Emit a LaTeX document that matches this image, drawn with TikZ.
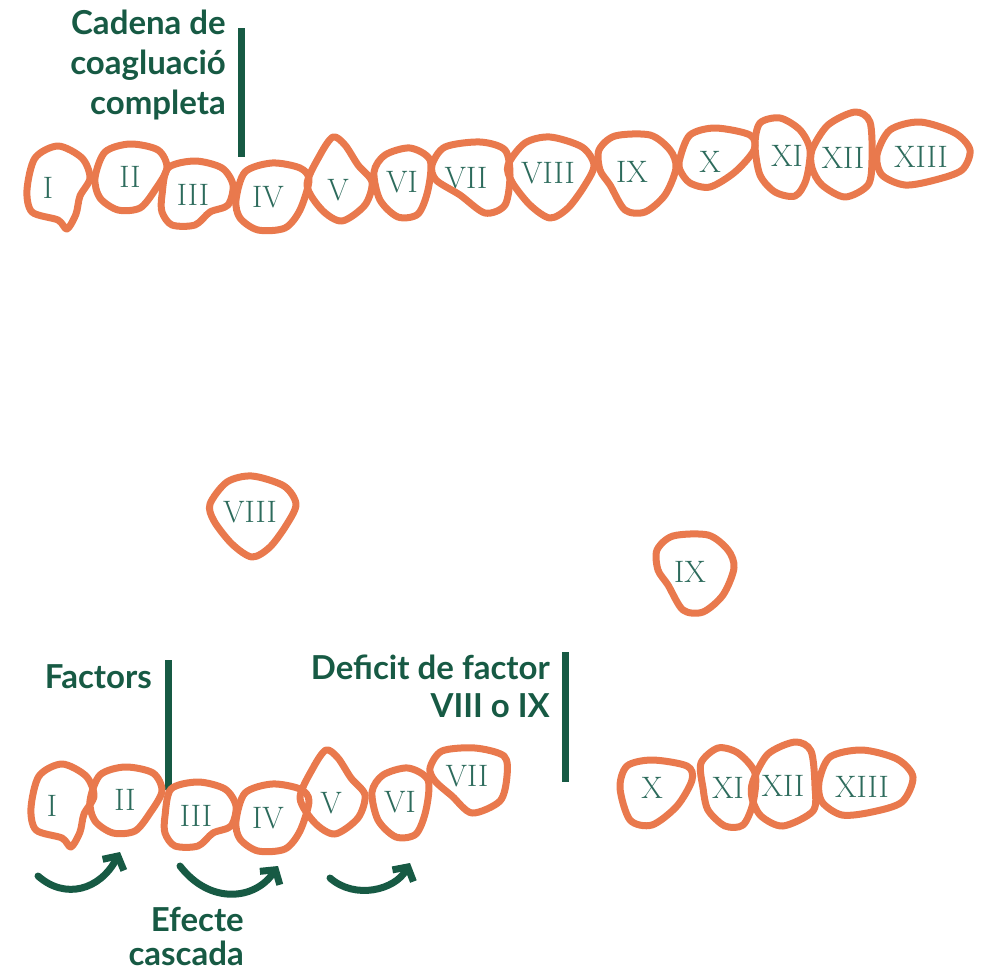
\documentclass[tikz,border=0pt]{standalone}
\usepackage{fontspec}
\newfontfamily\headfont{Lato}
\usetikzlibrary{arrows.meta}
\definecolor{blobcol}{HTML}{E9794D}
\definecolor{headcol}{HTML}{175A44}
\definecolor{numcol}{HTML}{2D6B5C}
% one factor: name, centre, label, outline around the centre
\newcommand\factor[4]{%
  \node[num] (#1) at (#2) {#3};
  \draw[blob,shift={(#2)}] plot[smooth cycle] coordinates {#4};}
\begin{document}
\begin{tikzpicture}[x=1pt,y=-1pt,
  blob/.style={blobcol,line width=7pt,line join=round},
  num/.style={inner sep=0pt,text=numcol,font=\fontsize{31}{31}\selectfont},
  head/.style={inner sep=0pt,anchor=north east,align=right,text=headcol,
    font=\headfont\bfseries\fontsize{33}{40}\selectfont},
  bar/.style={headcol,line width=7pt},
  cascade/.style={headcol,line width=7pt,line cap=round,line join=round,
    -{Straight Barb[length=10pt,width=24pt]}}]
\useasboundingbox (0,0) rectangle (986,972);

% complete chain
\node[head] (cadena) at (226,10) {Cadena de\\coagluació\\completa};
\draw[bar] (241,28) -- (241,157);
\factor{tI}{48,188}{I}{(-21,2) (-13,-30) (10,-42) (34,-30) (42,-10) (32,8) (28,26) (19,41) (10,32) (-16,24)}
\factor{tII}{130,177}{II}{(-35,1) (-25,-25) (0,-33) (28,-27) (37,-9) (25,13) (10,31) (-12,33) (-30,21)}
\factor{tIII}{193,195}{III}{(-31,0) (-25,-27) (2,-34) (29,-27) (40,-10) (35,10) (17,17) (2,30) (-21,30) (-31,17)}
\factor{tIV}{268,197}{IV}{(-32,3) (-23,-25) (4,-34) (32,-29) (41,-17) (32,13) (17,31) (-10,33) (-28,21)}
\factor{tV}{338,190}{V}{(-31,-5) (-18,-35) (-5,-53) (7,-45) (20,-25) (34,-8) (27,15) (4,31) (-16,20)}
\factor{tVI}{402,182}{VI}{(-28,-10) (-17,-27) (8,-34) (28,-22) (26,8) (16,32) (-4,35) (-22,18)}
\factor{tVII}{466,178}{VII}{(-34,-13) (-21,-31) (14,-36) (39,-28) (44,-3) (39,27) (19,35) (-6,17) (-30,2)}
\factor{tVIII}{548,173}{VIII}{(-40,-8) (-23,-30) (2,-36) (34,-26) (46,-8) (37,12) (20,35) (2,45) (-18,32) (-36,9)}
\factor{tIX}{632,172}{IX}{(-33,-22) (-17,-36) (18,-37) (38,-22) (44,-4) (33,23) (13,40) (-7,38) (-22,13) (-32,-2)}
\factor{tX}{710,162}{X}{(-30,-4) (-20,-27) (5,-34) (40,-27) (44,-12) (25,10) (0,25) (-20,21) (-30,8)}
\factor{tXI}{787,156}{XI}{(-32,-11) (-27,-33) (-7,-38) (13,-26) (23,-6) (19,24) (8,40) (-12,36) (-27,19)}
\factor{tXII}{843,158}{XII}{(-31,-8) (-15,-33) (12,-46) (27,-36) (29,2) (25,27) (2,39) (-21,27) (-31,10)}
\factor{tXIII}{921,157}{XIII}{(-44,-2) (-31,-27) (-1,-35) (34,-24) (49,-7) (41,13) (14,23) (-16,28) (-39,18)}

% missing factors
\factor{mVIII}{250,512}{VIII}{(-40,-8) (-23,-30) (2,-36) (34,-26) (46,-8) (37,12) (20,35) (2,45) (-18,32) (-36,9)}
\factor{mIX}{690,572}{IX}{(-33,-22) (-17,-36) (18,-37) (38,-22) (44,-4) (33,23) (13,40) (-7,38) (-22,13) (-32,-2)}

% broken chain
\node[head] (factors) at (152,664) {Factors};
\draw[bar] (168,660) -- (168,790);
\node[head] (deficit) at (550,655) {Deficit de factor\\[-2pt]VIII o IX};
\draw[bar] (565,652) -- (565,782);
\node[head,text depth=0pt] (efecte) at (244,907) {Efecte\\[-6pt]cascada};
\factor{bI}{52,806}{I}{(-21,2) (-13,-30) (10,-42) (34,-30) (42,-10) (32,8) (28,26) (19,41) (10,32) (-16,24)}
\factor{bII}{125,800}{II}{(-35,1) (-25,-25) (0,-33) (28,-27) (37,-9) (25,13) (10,31) (-12,33) (-30,21)}
\factor{bIII}{196,816}{III}{(-31,0) (-25,-27) (2,-34) (29,-27) (40,-10) (35,10) (17,17) (2,30) (-21,30) (-31,17)}
\factor{bIV}{268,818}{IV}{(-32,3) (-23,-25) (4,-34) (32,-29) (41,-17) (32,13) (17,31) (-10,33) (-28,21)}
\factor{bV}{331,803}{V}{(-31,-5) (-18,-35) (-5,-53) (7,-45) (20,-25) (34,-8) (27,15) (4,31) (-16,20)}
\factor{bVI}{400,802}{VI}{(-28,-10) (-17,-27) (8,-34) (28,-22) (26,8) (16,32) (-4,35) (-22,18)}
\factor{bVII}{467,776}{VII}{(-37,-8) (-25,-25) (8,-28) (37,-20) (40,0) (33,25) (5,37) (-15,20) (-32,5)}
\factor{bX}{652,788}{X}{(-32,0) (-25,-22) (0,-28) (35,-22) (40,-8) (25,18) (0,37) (-22,32)}
\factor{bXI}{728,788}{XI}{(-27,-25) (-10,-40) (10,-35) (27,-15) (25,15) (15,37) (-3,38) (-20,22) (-25,0)}
\factor{bXII}{783,786}{XII}{(-30,-5) (-15,-32) (12,-44) (28,-35) (32,0) (30,25) (0,40) (-22,30) (-31,12)}
\factor{bXIII}{862,787}{XIII}{(-43,-5) (-32,-30) (0,-37) (35,-28) (51,-10) (40,15) (10,25) (-20,28) (-40,15)}

\draw[cascade] ([shift={(-14,70)}]bI.center) .. controls +(27,24) and +(-20,38) .. ([shift={(-5,52)}]bII.center);
\draw[cascade] ([shift={(-16,50)}]bIII.center) .. controls +(30,39) and +(-23,34) .. ([shift={(10,48)}]bIV.center);
\draw[cascade] ([shift={(-1,75)}]bV.center) .. controls +(25,22) and +(-15,27) .. ([shift={(10,61)}]bVI.center);
\end{tikzpicture}
\end{document}
